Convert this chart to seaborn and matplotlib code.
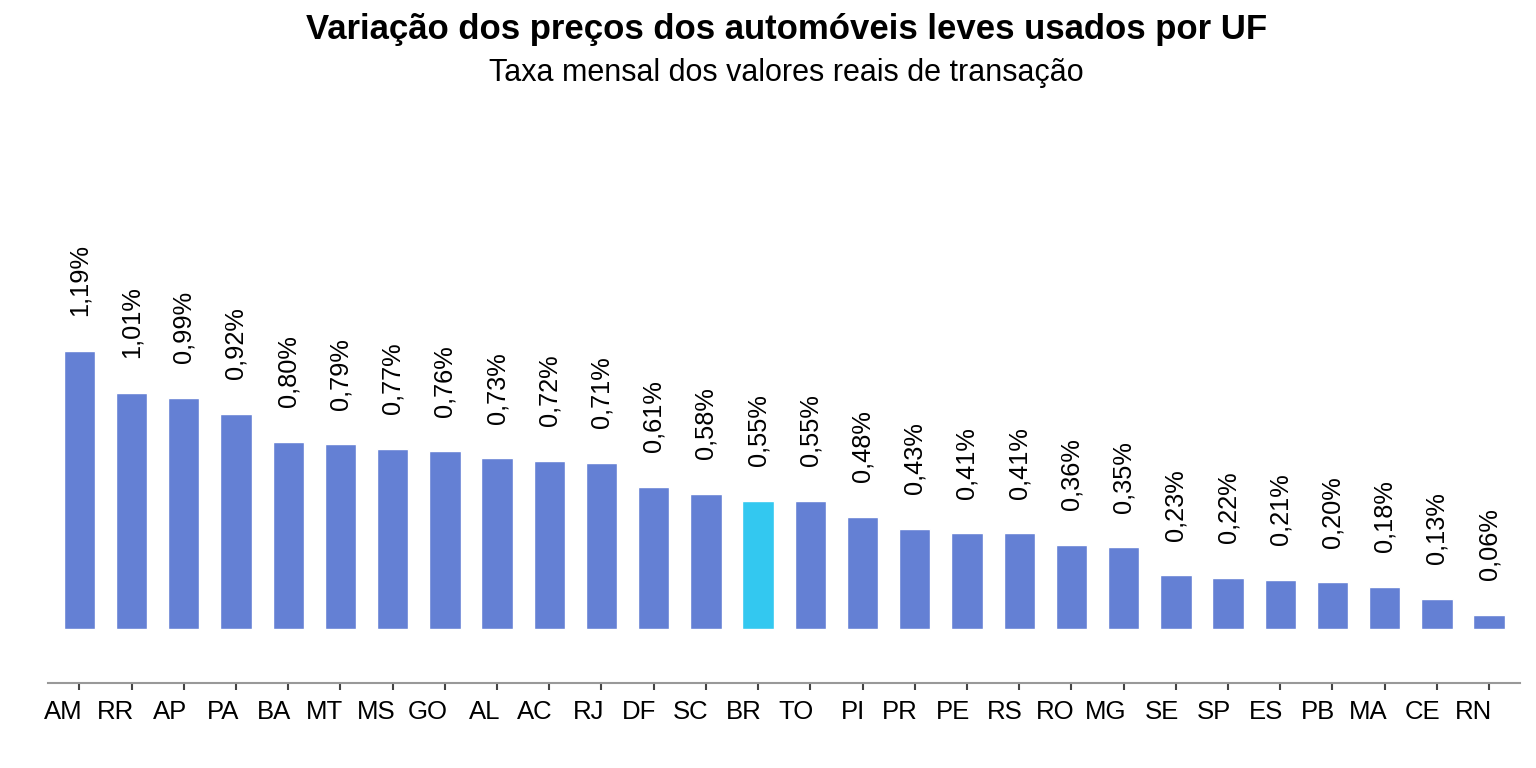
import pandas as pd
import matplotlib
matplotlib.use("Agg")
import matplotlib.pyplot as plt
import matplotlib.transforms as mtransforms
import seaborn as sns

# Dados do gráfico
ufs = ['AM', 'RR', 'AP', 'PA', 'BA', 'MT', 'MS', 'GO', 'AL', 'AC', 'RJ', 'DF', 'SC', 'BR',
       'TO', 'PI', 'PR', 'PE', 'RS', 'RO', 'MG', 'SE', 'SP', 'ES', 'PB', 'MA', 'CE', 'RN']
taxas = [1.19, 1.01, 0.99, 0.92, 0.80, 0.79, 0.77, 0.76, 0.73, 0.72, 0.71, 0.61, 0.58, 0.55,
         0.55, 0.48, 0.43, 0.41, 0.41, 0.36, 0.35, 0.23, 0.22, 0.21, 0.20, 0.18, 0.13, 0.06]
destaque = 'BR'

cor_barra = '#6480d4'
cor_destaque = '#33c8f0'

df = pd.DataFrame({'UF': ufs, 'Taxa': taxas})
palette = {uf: (cor_destaque if uf == destaque else cor_barra) for uf in ufs}

sns.set_style('white')
plt.rcParams['font.family'] = ['Liberation Sans', 'DejaVu Sans']
plt.rcParams['text.color'] = 'black'
plt.rcParams['xtick.labelcolor'] = 'black'

fig = plt.figure(figsize=(15.36, 7.68), dpi=100)
ax = fig.add_axes([0.03125, 0.1107, 0.9583, 0.746])

sns.barplot(data=df, x='UF', y='Taxa', hue='UF', palette=palette, legend=False,
            width=0.6, saturation=1, ax=ax)

# Rótulos com vírgula decimal
for cont in ax.containers:
    vals = [f"{v:.2f}%".replace('.', ',') for v in cont.datavalues]
    ax.bar_label(cont, labels=vals, rotation=90, padding=25, fontsize=18.3, color='black')

ax.set_xlim(-0.6, len(ufs) - 0.41)
ax.set_ylim(-0.23, 2.22)
ax.set_xlabel('')
ax.set_ylabel('')
ax.set_yticks([])

for s in ['top', 'right', 'left']:
    ax.spines[s].set_visible(False)
ax.spines['bottom'].set_color('#999999')
ax.spines['bottom'].set_linewidth(1.5)

ax.tick_params(axis='x', bottom=True, length=5, width=1.5, color='#444444',
               labelsize=18.5, pad=7)
offset = mtransforms.ScaledTranslation(3 / 100, 0, fig.dpi_scale_trans)
for lbl in ax.get_xticklabels():
    lbl.set_ha('right')
    lbl.set_transform(lbl.get_transform() + offset)

fig.text(0.512, 0.962, 'Variação dos preços dos automóveis leves usados por UF',
         ha='center', va='center', fontsize=25, fontweight='bold')
fig.text(0.512, 0.905, 'Taxa mensal dos valores reais de transação',
         ha='center', va='center', fontsize=22)

fig.savefig('out.png', dpi=100)
